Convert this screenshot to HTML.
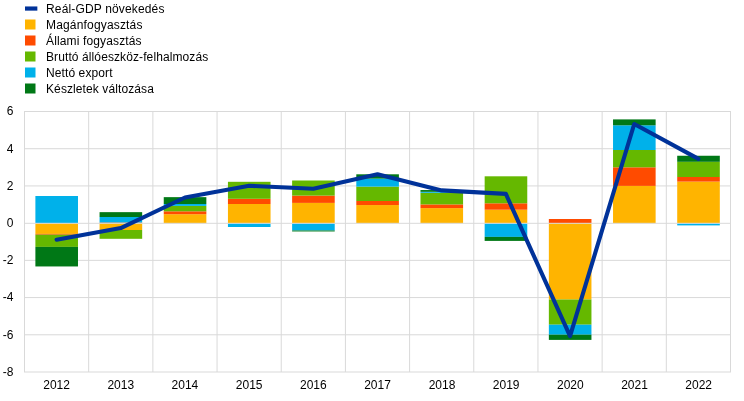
<!DOCTYPE html>
<html lang="hu">
<head>
<meta charset="utf-8">
<title>Reál-GDP növekedés</title>
<style>
html,body{margin:0;padding:0;background:#fff;}
body{width:744px;height:401px;overflow:hidden;}
svg{display:block;}
svg text{font-family:"Liberation Sans",sans-serif;font-size:12px;fill:#000;}
</style>
</head>
<body>
<svg width="744" height="401" viewBox="0 0 744 401">
<rect x="0" y="0" width="744" height="401" fill="#ffffff"/>
<g stroke="#D9D9D9" stroke-width="1" fill="none">
<line x1="24" y1="111.5" x2="731" y2="111.5"/>
<line x1="24" y1="148.71" x2="731" y2="148.71"/>
<line x1="24" y1="185.93" x2="731" y2="185.93"/>
<line x1="24" y1="260.36" x2="731" y2="260.36"/>
<line x1="24" y1="297.57" x2="731" y2="297.57"/>
<line x1="24" y1="334.79" x2="731" y2="334.79"/>
<line x1="24" y1="372" x2="731" y2="372"/>
<line x1="24.5" y1="111.5" x2="24.5" y2="372"/>
<line x1="88.68" y1="111.5" x2="88.68" y2="372"/>
<line x1="152.86" y1="111.5" x2="152.86" y2="372"/>
<line x1="217.05" y1="111.5" x2="217.05" y2="372"/>
<line x1="281.23" y1="111.5" x2="281.23" y2="372"/>
<line x1="345.41" y1="111.5" x2="345.41" y2="372"/>
<line x1="409.59" y1="111.5" x2="409.59" y2="372"/>
<line x1="473.77" y1="111.5" x2="473.77" y2="372"/>
<line x1="537.95" y1="111.5" x2="537.95" y2="372"/>
<line x1="602.14" y1="111.5" x2="602.14" y2="372"/>
<line x1="666.32" y1="111.5" x2="666.32" y2="372"/>
<line x1="730.5" y1="111.5" x2="730.5" y2="372"/>
</g>
<g>
<rect x="35.39" y="196" width="42.6" height="27.3" fill="#00B1EA"/>
<rect x="35.39" y="223.3" width="42.6" height="10.6" fill="#FFB400"/>
<rect x="35.39" y="233.9" width="42.6" height="0.8" fill="#FF4B00"/>
<rect x="35.39" y="234.7" width="42.6" height="12.2" fill="#65B800"/>
<rect x="35.39" y="246.9" width="42.6" height="19.55" fill="#007816"/>
<rect x="99.57" y="212.15" width="42.6" height="4.85" fill="#007816"/>
<rect x="99.57" y="217" width="42.6" height="5.75" fill="#00B1EA"/>
<rect x="99.57" y="222.75" width="42.6" height="0.55" fill="#FF4B00"/>
<rect x="99.57" y="223.3" width="42.6" height="6.7" fill="#FFB400"/>
<rect x="99.57" y="230" width="42.6" height="8.8" fill="#65B800"/>
<rect x="163.75" y="214.2" width="42.6" height="9.1" fill="#FFB400"/>
<rect x="163.75" y="211.3" width="42.6" height="2.9" fill="#FF4B00"/>
<rect x="163.75" y="205.9" width="42.6" height="5.4" fill="#65B800"/>
<rect x="163.75" y="204" width="42.6" height="1.9" fill="#00B1EA"/>
<rect x="163.75" y="197.15" width="42.6" height="6.85" fill="#007816"/>
<rect x="227.94" y="204" width="42.6" height="19.3" fill="#FFB400"/>
<rect x="227.94" y="198.8" width="42.6" height="5.2" fill="#FF4B00"/>
<rect x="227.94" y="181.8" width="42.6" height="17" fill="#65B800"/>
<rect x="227.94" y="223.3" width="42.6" height="3.7" fill="#00B1EA"/>
<rect x="292.12" y="202.9" width="42.6" height="20.4" fill="#FFB400"/>
<rect x="292.12" y="195.6" width="42.6" height="7.3" fill="#FF4B00"/>
<rect x="292.12" y="180.5" width="42.6" height="15.1" fill="#65B800"/>
<rect x="292.12" y="223.3" width="42.6" height="7.2" fill="#00B1EA"/>
<rect x="292.12" y="230.5" width="42.6" height="0.95" fill="#007816"/>
<rect x="356.3" y="205.05" width="42.6" height="18.25" fill="#FFB400"/>
<rect x="356.3" y="201" width="42.6" height="4.05" fill="#FF4B00"/>
<rect x="356.3" y="186.6" width="42.6" height="14.4" fill="#65B800"/>
<rect x="356.3" y="178.6" width="42.6" height="8" fill="#00B1EA"/>
<rect x="356.3" y="174.3" width="42.6" height="4.3" fill="#007816"/>
<rect x="420.48" y="208.1" width="42.6" height="15.2" fill="#FFB400"/>
<rect x="420.48" y="204.4" width="42.6" height="3.7" fill="#FF4B00"/>
<rect x="420.48" y="192.8" width="42.6" height="11.6" fill="#65B800"/>
<rect x="420.48" y="191.8" width="42.6" height="1" fill="#00B1EA"/>
<rect x="420.48" y="190.05" width="42.6" height="1.75" fill="#007816"/>
<rect x="484.66" y="209.7" width="42.6" height="13.6" fill="#FFB400"/>
<rect x="484.66" y="203.3" width="42.6" height="6.4" fill="#FF4B00"/>
<rect x="484.66" y="176.3" width="42.6" height="27" fill="#65B800"/>
<rect x="484.66" y="223.3" width="42.6" height="13.6" fill="#00B1EA"/>
<rect x="484.66" y="236.9" width="42.6" height="4" fill="#007816"/>
<rect x="548.85" y="219" width="42.6" height="4.3" fill="#FF4B00"/>
<rect x="548.85" y="223.3" width="42.6" height="76.2" fill="#FFB400"/>
<rect x="548.85" y="299.5" width="42.6" height="25.2" fill="#65B800"/>
<rect x="548.85" y="324.7" width="42.6" height="10" fill="#00B1EA"/>
<rect x="548.85" y="334.7" width="42.6" height="5.2" fill="#007816"/>
<rect x="613.03" y="185.9" width="42.6" height="37.4" fill="#FFB400"/>
<rect x="613.03" y="167.3" width="42.6" height="18.6" fill="#FF4B00"/>
<rect x="613.03" y="150" width="42.6" height="17.3" fill="#65B800"/>
<rect x="613.03" y="125.3" width="42.6" height="24.7" fill="#00B1EA"/>
<rect x="613.03" y="119.4" width="42.6" height="5.9" fill="#007816"/>
<rect x="677.21" y="181.6" width="42.6" height="41.7" fill="#FFB400"/>
<rect x="677.21" y="177" width="42.6" height="4.6" fill="#FF4B00"/>
<rect x="677.21" y="161.8" width="42.6" height="15.2" fill="#65B800"/>
<rect x="677.21" y="155.75" width="42.6" height="6.05" fill="#007816"/>
<rect x="677.21" y="223.3" width="42.6" height="2.1" fill="#00B1EA"/>
</g>
<line x1="24" y1="223.3" x2="731" y2="223.3" stroke="#D9D9D9" stroke-width="1"/>
<polyline points="56.59,239.7 120.77,228.1 184.95,197.5 249.14,185.8 313.32,188.7 377.5,174.3 441.68,190.4 505.86,193.9 570.05,336.2 634.23,124 698.41,158.9" fill="none" stroke="#003299" stroke-width="4.1" stroke-linecap="round" stroke-linejoin="round"/>
<g text-anchor="end">
<text x="13.5" y="114.8">6</text>
<text x="13.5" y="153.01">4</text>
<text x="13.5" y="190.23">2</text>
<text x="13.5" y="227.44">0</text>
<text x="13.5" y="264.26">-2</text>
<text x="13.5" y="301.37">-4</text>
<text x="13.5" y="339.19">-6</text>
<text x="13.5" y="376.4">-8</text>
</g>
<g text-anchor="middle">
<text x="56.59" y="389.3">2012</text>
<text x="120.77" y="389.3">2013</text>
<text x="184.95" y="389.3">2014</text>
<text x="249.14" y="389.3">2015</text>
<text x="313.32" y="389.3">2016</text>
<text x="377.5" y="389.3">2017</text>
<text x="441.98" y="389.3">2018</text>
<text x="506.16" y="389.3">2019</text>
<text x="570.35" y="389.3">2020</text>
<text x="634.53" y="389.3">2021</text>
<text x="698.71" y="389.3">2022</text>
</g>
<line x1="25" y1="8.55" x2="37.35" y2="8.55" stroke="#003299" stroke-width="4.2"/>
<rect x="25" y="19.5" width="10.5" height="10" fill="#FFB400"/>
<rect x="25" y="35.5" width="10.5" height="10" fill="#FF4B00"/>
<rect x="25" y="51.5" width="10.5" height="10" fill="#65B800"/>
<rect x="25" y="67.5" width="10.5" height="10" fill="#00B1EA"/>
<rect x="25" y="83.5" width="10.5" height="10" fill="#007816"/>
<g>
<text x="46" y="12.6" letter-spacing="0.15">Reál-GDP növekedés</text>
<text x="46" y="28.6" letter-spacing="0.17">Magánfogyasztás</text>
<text x="46" y="44.6" letter-spacing="0.14">Állami fogyasztás</text>
<text x="46" y="60.6" letter-spacing="0.1">Bruttó állóeszköz-felhalmozás</text>
<text x="46" y="76.6" letter-spacing="0.1">Nettó export</text>
<text x="46" y="92.6" letter-spacing="0.1">Készletek változása</text>
</g>
</svg>
</body>
</html>
